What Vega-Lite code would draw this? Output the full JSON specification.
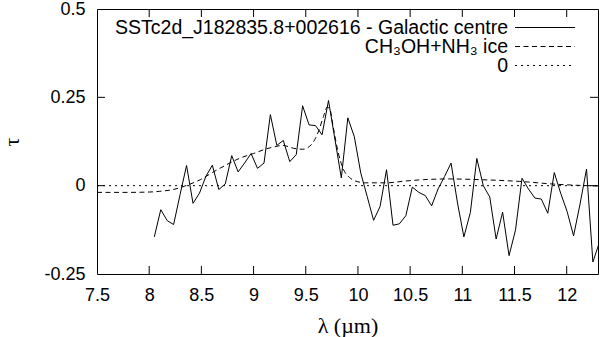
{
  "$schema": "https://vega.github.io/schema/vega-lite/v6.json",
  "width": 501,
  "height": 265,
  "autosize": "none",
  "padding": {"left": 97, "top": 9, "right": 2, "bottom": 63},
  "background": "white",
  "config": {
    "view": {"stroke": "black", "strokeWidth": 1},
    "font": "Liberation Sans",
    "axis": {
      "domain": false,
      "grid": false,
      "ticks": false,
      "labelColor": "black",
      "labelFont": "Liberation Sans",
      "labelFontSize": 18,
      "labelOverlap": false,
      "labelFlush": false,
      "titleColor": "black",
      "titleFont": "Liberation Serif",
      "titleFontWeight": "normal",
      "titleFontSize": 22
    }
  },
  "datasets": {
    "spectra": [
      {"series": "SSTc2d_J182835.8+002616 - Galactic centre", "lambda": 8.049, "tau": -0.145},
      {"series": "SSTc2d_J182835.8+002616 - Galactic centre", "lambda": 8.111, "tau": -0.068},
      {"series": "SSTc2d_J182835.8+002616 - Galactic centre", "lambda": 8.173, "tau": -0.099},
      {"series": "SSTc2d_J182835.8+002616 - Galactic centre", "lambda": 8.234, "tau": -0.110},
      {"series": "SSTc2d_J182835.8+002616 - Galactic centre", "lambda": 8.296, "tau": -0.025},
      {"series": "SSTc2d_J182835.8+002616 - Galactic centre", "lambda": 8.358, "tau": 0.057},
      {"series": "SSTc2d_J182835.8+002616 - Galactic centre", "lambda": 8.420, "tau": -0.050},
      {"series": "SSTc2d_J182835.8+002616 - Galactic centre", "lambda": 8.482, "tau": -0.021},
      {"series": "SSTc2d_J182835.8+002616 - Galactic centre", "lambda": 8.543, "tau": 0.026},
      {"series": "SSTc2d_J182835.8+002616 - Galactic centre", "lambda": 8.605, "tau": 0.058},
      {"series": "SSTc2d_J182835.8+002616 - Galactic centre", "lambda": 8.667, "tau": -0.011},
      {"series": "SSTc2d_J182835.8+002616 - Galactic centre", "lambda": 8.729, "tau": 0.005},
      {"series": "SSTc2d_J182835.8+002616 - Galactic centre", "lambda": 8.791, "tau": 0.085},
      {"series": "SSTc2d_J182835.8+002616 - Galactic centre", "lambda": 8.852, "tau": 0.039},
      {"series": "SSTc2d_J182835.8+002616 - Galactic centre", "lambda": 8.914, "tau": 0.064},
      {"series": "SSTc2d_J182835.8+002616 - Galactic centre", "lambda": 8.976, "tau": 0.091},
      {"series": "SSTc2d_J182835.8+002616 - Galactic centre", "lambda": 9.038, "tau": 0.049},
      {"series": "SSTc2d_J182835.8+002616 - Galactic centre", "lambda": 9.100, "tau": 0.064},
      {"series": "SSTc2d_J182835.8+002616 - Galactic centre", "lambda": 9.161, "tau": 0.201},
      {"series": "SSTc2d_J182835.8+002616 - Galactic centre", "lambda": 9.223, "tau": 0.114},
      {"series": "SSTc2d_J182835.8+002616 - Galactic centre", "lambda": 9.285, "tau": 0.128},
      {"series": "SSTc2d_J182835.8+002616 - Galactic centre", "lambda": 9.347, "tau": 0.068},
      {"series": "SSTc2d_J182835.8+002616 - Galactic centre", "lambda": 9.409, "tau": 0.088},
      {"series": "SSTc2d_J182835.8+002616 - Galactic centre", "lambda": 9.470, "tau": 0.226},
      {"series": "SSTc2d_J182835.8+002616 - Galactic centre", "lambda": 9.532, "tau": 0.172},
      {"series": "SSTc2d_J182835.8+002616 - Galactic centre", "lambda": 9.594, "tau": 0.170},
      {"series": "SSTc2d_J182835.8+002616 - Galactic centre", "lambda": 9.656, "tau": 0.144},
      {"series": "SSTc2d_J182835.8+002616 - Galactic centre", "lambda": 9.718, "tau": 0.241},
      {"series": "SSTc2d_J182835.8+002616 - Galactic centre", "lambda": 9.779, "tau": 0.132},
      {"series": "SSTc2d_J182835.8+002616 - Galactic centre", "lambda": 9.841, "tau": 0.022},
      {"series": "SSTc2d_J182835.8+002616 - Galactic centre", "lambda": 9.903, "tau": 0.192},
      {"series": "SSTc2d_J182835.8+002616 - Galactic centre", "lambda": 9.965, "tau": 0.139},
      {"series": "SSTc2d_J182835.8+002616 - Galactic centre", "lambda": 10.027, "tau": 0.036},
      {"series": "SSTc2d_J182835.8+002616 - Galactic centre", "lambda": 10.088, "tau": -0.030},
      {"series": "SSTc2d_J182835.8+002616 - Galactic centre", "lambda": 10.150, "tau": -0.098},
      {"series": "SSTc2d_J182835.8+002616 - Galactic centre", "lambda": 10.212, "tau": -0.059},
      {"series": "SSTc2d_J182835.8+002616 - Galactic centre", "lambda": 10.274, "tau": 0.045},
      {"series": "SSTc2d_J182835.8+002616 - Galactic centre", "lambda": 10.336, "tau": -0.112},
      {"series": "SSTc2d_J182835.8+002616 - Galactic centre", "lambda": 10.397, "tau": -0.108},
      {"series": "SSTc2d_J182835.8+002616 - Galactic centre", "lambda": 10.459, "tau": -0.085},
      {"series": "SSTc2d_J182835.8+002616 - Galactic centre", "lambda": 10.521, "tau": -0.004},
      {"series": "SSTc2d_J182835.8+002616 - Galactic centre", "lambda": 10.583, "tau": -0.019},
      {"series": "SSTc2d_J182835.8+002616 - Galactic centre", "lambda": 10.645, "tau": -0.028},
      {"series": "SSTc2d_J182835.8+002616 - Galactic centre", "lambda": 10.706, "tau": -0.057},
      {"series": "SSTc2d_J182835.8+002616 - Galactic centre", "lambda": 10.768, "tau": -0.009},
      {"series": "SSTc2d_J182835.8+002616 - Galactic centre", "lambda": 10.830, "tau": 0.026},
      {"series": "SSTc2d_J182835.8+002616 - Galactic centre", "lambda": 10.892, "tau": 0.064},
      {"series": "SSTc2d_J182835.8+002616 - Galactic centre", "lambda": 10.954, "tau": -0.049},
      {"series": "SSTc2d_J182835.8+002616 - Galactic centre", "lambda": 11.015, "tau": -0.145},
      {"series": "SSTc2d_J182835.8+002616 - Galactic centre", "lambda": 11.077, "tau": -0.076},
      {"series": "SSTc2d_J182835.8+002616 - Galactic centre", "lambda": 11.139, "tau": 0.077},
      {"series": "SSTc2d_J182835.8+002616 - Galactic centre", "lambda": 11.201, "tau": 0.000},
      {"series": "SSTc2d_J182835.8+002616 - Galactic centre", "lambda": 11.263, "tau": -0.032},
      {"series": "SSTc2d_J182835.8+002616 - Galactic centre", "lambda": 11.324, "tau": -0.151},
      {"series": "SSTc2d_J182835.8+002616 - Galactic centre", "lambda": 11.386, "tau": -0.075},
      {"series": "SSTc2d_J182835.8+002616 - Galactic centre", "lambda": 11.448, "tau": -0.198},
      {"series": "SSTc2d_J182835.8+002616 - Galactic centre", "lambda": 11.510, "tau": -0.125},
      {"series": "SSTc2d_J182835.8+002616 - Galactic centre", "lambda": 11.572, "tau": 0.021},
      {"series": "SSTc2d_J182835.8+002616 - Galactic centre", "lambda": 11.633, "tau": -0.009},
      {"series": "SSTc2d_J182835.8+002616 - Galactic centre", "lambda": 11.695, "tau": -0.035},
      {"series": "SSTc2d_J182835.8+002616 - Galactic centre", "lambda": 11.757, "tau": -0.038},
      {"series": "SSTc2d_J182835.8+002616 - Galactic centre", "lambda": 11.819, "tau": -0.078},
      {"series": "SSTc2d_J182835.8+002616 - Galactic centre", "lambda": 11.881, "tau": 0.037},
      {"series": "SSTc2d_J182835.8+002616 - Galactic centre", "lambda": 11.942, "tau": -0.021},
      {"series": "SSTc2d_J182835.8+002616 - Galactic centre", "lambda": 12.004, "tau": -0.073},
      {"series": "SSTc2d_J182835.8+002616 - Galactic centre", "lambda": 12.066, "tau": -0.142},
      {"series": "SSTc2d_J182835.8+002616 - Galactic centre", "lambda": 12.128, "tau": -0.052},
      {"series": "SSTc2d_J182835.8+002616 - Galactic centre", "lambda": 12.190, "tau": 0.047},
      {"series": "SSTc2d_J182835.8+002616 - Galactic centre", "lambda": 12.251, "tau": -0.216},
      {"series": "SSTc2d_J182835.8+002616 - Galactic centre", "lambda": 12.313, "tau": -0.161},
      {"series": "CH₃OH+NH₃ ice", "lambda": 7.5, "tau": -0.019},
      {"series": "CH₃OH+NH₃ ice", "lambda": 7.8, "tau": -0.019},
      {"series": "CH₃OH+NH₃ ice", "lambda": 8.0, "tau": -0.018},
      {"series": "CH₃OH+NH₃ ice", "lambda": 8.1, "tau": -0.016},
      {"series": "CH₃OH+NH₃ ice", "lambda": 8.23, "tau": -0.011},
      {"series": "CH₃OH+NH₃ ice", "lambda": 8.36, "tau": 0.001},
      {"series": "CH₃OH+NH₃ ice", "lambda": 8.49, "tau": 0.017},
      {"series": "CH₃OH+NH₃ ice", "lambda": 8.61, "tau": 0.038},
      {"series": "CH₃OH+NH₃ ice", "lambda": 8.74, "tau": 0.059},
      {"series": "CH₃OH+NH₃ ice", "lambda": 8.87, "tau": 0.078},
      {"series": "CH₃OH+NH₃ ice", "lambda": 9.0, "tau": 0.091},
      {"series": "CH₃OH+NH₃ ice", "lambda": 9.12, "tau": 0.104},
      {"series": "CH₃OH+NH₃ ice", "lambda": 9.2, "tau": 0.110},
      {"series": "CH₃OH+NH₃ ice", "lambda": 9.28, "tau": 0.114},
      {"series": "CH₃OH+NH₃ ice", "lambda": 9.38, "tau": 0.106},
      {"series": "CH₃OH+NH₃ ice", "lambda": 9.47, "tau": 0.103},
      {"series": "CH₃OH+NH₃ ice", "lambda": 9.55, "tau": 0.115},
      {"series": "CH₃OH+NH₃ ice", "lambda": 9.62, "tau": 0.152},
      {"series": "CH₃OH+NH₃ ice", "lambda": 9.67, "tau": 0.196},
      {"series": "CH₃OH+NH₃ ice", "lambda": 9.705, "tau": 0.222},
      {"series": "CH₃OH+NH₃ ice", "lambda": 9.73, "tau": 0.217},
      {"series": "CH₃OH+NH₃ ice", "lambda": 9.765, "tau": 0.163},
      {"series": "CH₃OH+NH₃ ice", "lambda": 9.81, "tau": 0.095},
      {"series": "CH₃OH+NH₃ ice", "lambda": 9.86, "tau": 0.047},
      {"series": "CH₃OH+NH₃ ice", "lambda": 9.92, "tau": 0.023},
      {"series": "CH₃OH+NH₃ ice", "lambda": 10.0, "tau": 0.011},
      {"series": "CH₃OH+NH₃ ice", "lambda": 10.07, "tau": 0.008},
      {"series": "CH₃OH+NH₃ ice", "lambda": 10.27, "tau": 0.008},
      {"series": "CH₃OH+NH₃ ice", "lambda": 10.45, "tau": 0.013},
      {"series": "CH₃OH+NH₃ ice", "lambda": 10.63, "tau": 0.017},
      {"series": "CH₃OH+NH₃ ice", "lambda": 10.88, "tau": 0.019},
      {"series": "CH₃OH+NH₃ ice", "lambda": 11.17, "tau": 0.017},
      {"series": "CH₃OH+NH₃ ice", "lambda": 11.55, "tau": 0.012},
      {"series": "CH₃OH+NH₃ ice", "lambda": 11.9, "tau": 0.004},
      {"series": "CH₃OH+NH₃ ice", "lambda": 12.3, "tau": -0.001},
      {"series": "0", "lambda": 7.5, "tau": 0},
      {"series": "0", "lambda": 12.3, "tau": 0}
    ],
    "xticks": [{"v": 8}, {"v": 8.5}, {"v": 9}, {"v": 9.5}, {"v": 10}, {"v": 10.5}, {"v": 11}, {"v": 11.5}, {"v": 12}],
    "yticks": [{"v": 0}, {"v": 0.25}],
    "legend": [
      {"series": "SSTc2d_J182835.8+002616 - Galactic centre"},
      {"series": "CH₃OH+NH₃ ice"},
      {"series": "0"}
    ]
  },
  "data": {"name": "spectra"},
  "layer": [
    {
      "transform": [{"filter": "datum.series === 'SSTc2d_J182835.8+002616 - Galactic centre'"}],
      "mark": {"type": "line", "strokeWidth": 1, "clip": true, "color": "black"},
      "encoding": {
        "x": {"field": "lambda", "type": "quantitative", "scale": {"domain": [7.5, 12.3], "nice": false, "zero": false}, "axis": {
          "orient": "bottom", "values": [7.5, 8, 8.5, 9, 9.5, 10, 10.5, 11, 11.5, 12],
          "labelExpr": "'' + datum.value", "labelPadding": 12.5, "title": "λ (µm)", "titlePadding": 11}},
        "y": {"field": "tau", "type": "quantitative", "scale": {"domain": [-0.25, 0.5], "nice": false, "zero": false}, "axis": {
          "orient": "left", "values": [-0.25, 0, 0.25, 0.5],
          "labelExpr": "'' + datum.value", "labelPadding": 12, "title": "τ", "titlePadding": 20}}
      }
    },
    {
      "transform": [{"filter": "datum.series === 'CH₃OH+NH₃ ice'"}],
      "mark": {"type": "line", "strokeWidth": 1, "clip": true, "interpolate": "monotone", "color": "black", "strokeDash": [5, 3.5]},
      "encoding": {
        "x": {"field": "lambda", "type": "quantitative", "scale": {"domain": [7.5, 12.3], "nice": false, "zero": false}},
        "y": {"field": "tau", "type": "quantitative", "scale": {"domain": [-0.25, 0.5], "nice": false, "zero": false}}
      }
    },
    {
      "transform": [{"filter": "datum.series === '0'"}],
      "mark": {"type": "line", "strokeWidth": 1, "clip": true, "color": "black", "strokeDash": [2, 4]},
      "encoding": {
        "x": {"field": "lambda", "type": "quantitative", "scale": {"domain": [7.5, 12.3], "nice": false, "zero": false}},
        "y": {"field": "tau", "type": "quantitative", "scale": {"domain": [-0.25, 0.5], "nice": false, "zero": false}}
      }
    },
    {
      "data": {"name": "xticks"},
      "mark": {"type": "rule", "strokeWidth": 1, "color": "black"},
      "encoding": {
        "x": {"field": "v", "type": "quantitative", "scale": {"domain": [7.5, 12.3], "nice": false, "zero": false}},
        "y": {"datum": -0.25, "type": "quantitative", "scale": {"domain": [-0.25, 0.5], "nice": false, "zero": false}},
        "y2": {"datum": -0.2274}
      }
    },
    {
      "data": {"name": "xticks"},
      "mark": {"type": "rule", "strokeWidth": 1, "color": "black"},
      "encoding": {
        "x": {"field": "v", "type": "quantitative", "scale": {"domain": [7.5, 12.3], "nice": false, "zero": false}},
        "y": {"datum": 0.5, "type": "quantitative", "scale": {"domain": [-0.25, 0.5], "nice": false, "zero": false}},
        "y2": {"datum": 0.4774}
      }
    },
    {
      "data": {"name": "yticks"},
      "mark": {"type": "rule", "strokeWidth": 1, "color": "black"},
      "encoding": {
        "y": {"field": "v", "type": "quantitative", "scale": {"domain": [-0.25, 0.5], "nice": false, "zero": false}},
        "x": {"datum": 7.5, "type": "quantitative", "scale": {"domain": [7.5, 12.3], "nice": false, "zero": false}},
        "x2": {"datum": 7.5766}
      }
    },
    {
      "data": {"name": "yticks"},
      "mark": {"type": "rule", "strokeWidth": 1, "color": "black"},
      "encoding": {
        "y": {"field": "v", "type": "quantitative", "scale": {"domain": [-0.25, 0.5], "nice": false, "zero": false}},
        "x": {"datum": 12.3, "type": "quantitative", "scale": {"domain": [7.5, 12.3], "nice": false, "zero": false}},
        "x2": {"datum": 12.2234}
      }
    },
    {
      "data": {"name": "legend"},
      "mark": {"type": "rule", "strokeWidth": 1, "color": "black"},
      "encoding": {
        "x": {"datum": 11.505, "type": "quantitative", "scale": {"domain": [7.5, 12.3], "nice": false, "zero": false}},
        "x2": {"datum": 12.08},
        "y": {"datum": 0.4476, "type": "quantitative", "scale": {"domain": [-0.25, 0.5], "nice": false, "zero": false}},
        "yOffset": {"field": "series", "type": "nominal", "scale": {"type": "point", "domain": ["SSTc2d_J182835.8+002616 - Galactic centre", "CH₃OH+NH₃ ice", "0"], "range": [0, 38], "padding": 0}},
        "strokeDash": {"field": "series", "type": "nominal", "legend": null,
          "scale": {"domain": ["SSTc2d_J182835.8+002616 - Galactic centre", "CH₃OH+NH₃ ice", "0"], "range": [[1, 0], [5, 3.5], [2, 4]]}}
      }
    },
    {
      "data": {"name": "legend"},
      "mark": {"type": "text", "align": "right", "baseline": "middle", "font": "Liberation Sans", "fontSize": 19.5, "color": "black"},
      "encoding": {
        "x": {"datum": 11.438, "type": "quantitative", "scale": {"domain": [7.5, 12.3], "nice": false, "zero": false}},
        "y": {"datum": 0.4476, "type": "quantitative", "scale": {"domain": [-0.25, 0.5], "nice": false, "zero": false}},
        "yOffset": {"field": "series", "type": "nominal", "scale": {"type": "point", "domain": ["SSTc2d_J182835.8+002616 - Galactic centre", "CH₃OH+NH₃ ice", "0"], "range": [0, 38], "padding": 0}},
        "text": {"field": "series"}
      }
    }
  ]
}
